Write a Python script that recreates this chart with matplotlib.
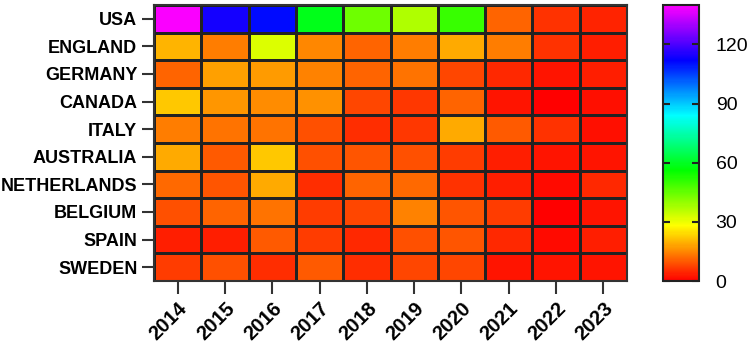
"""Heatmap of yearly values by country with a truncated-rainbow colour scale."""

import matplotlib

matplotlib.use("Agg")
import matplotlib.pyplot as plt  # noqa: E402
import numpy as np  # noqa: E402
from matplotlib.colors import ListedColormap, hsv_to_rgb  # noqa: E402

countries = ["USA", "ENGLAND", "GERMANY", "CANADA", "ITALY", "AUSTRALIA",
             "NETHERLANDS", "BELGIUM", "SPAIN", "SWEDEN"]
years = ["2014", "2015", "2016", "2017", "2018", "2019", "2020", "2021", "2022", "2023"]

usa = [139, 114, 111, 59, 44, 37, 50, 11, 5.5, 4]
england = [20, 14, 32, 15, 11, 14, 19, 14, 5.5, 3.3]
germany = [11, 17.5, 17, 14.3, 11, 13, 7.7, 4.4, 2.2, 3.3]
canada = [22, 16.5, 15.4, 16, 8, 6.5, 11, 2.2, 0.5, 2]
italy = [14, 13, 12.6, 9, 5, 6.5, 19, 10, 5.5, 2]
australia = [19, 10, 22, 9, 9.3, 9, 7, 3.8, 2.7, 2.7]
netherlands = [12, 9.3, 18.7, 5, 11, 12, 6, 3.3, 1.6, 4.4]
belgium = [8.8, 11, 13, 6.6, 8, 14.3, 9.3, 6.6, 0.5, 2.2]
spain = [3.8, 3.8, 10, 7, 4.4, 8.8, 9.3, 4.4, 1.6, 3.3]
sweden = [7, 8.8, 5, 10, 5, 8, 7.7, 2.2, 2.2, 2.7]

cbar_ticks = [0, 30, 60, 90, 120]
vmax = 140

values = np.array([usa, england, germany, canada, italy, australia,
                   netherlands, belgium, spain, sweden])

# red -> yellow -> green -> cyan -> blue -> magenta
hues = np.linspace(0, 5 / 6, 256)
cmap = ListedColormap(hsv_to_rgb(np.column_stack([hues, np.ones(256), np.ones(256)])))

plt.rcParams["font.family"] = ["Liberation Sans", "DejaVu Sans"]

W, H = 750, 348
fig = plt.figure(figsize=(W / 100, H / 100), dpi=100)
ax = fig.add_axes([154 / W, 1 - 281 / H, (627 - 154) / W, (281 - 5) / H])
cax = fig.add_axes([663 / W, 1 - 281 / H, 36 / W, 276 / H])

mesh = ax.pcolormesh(values, cmap=cmap, vmin=0, vmax=vmax,
                     edgecolors="#222222", linewidth=0.75)
ax.set_xlim(0, len(years))
ax.set_ylim(len(countries), 0)
ax.set_xticks(np.arange(len(years)) + 0.5)
ax.set_xticklabels(years, rotation=45, ha="right", rotation_mode="anchor",
                   fontsize=14.5, fontweight="bold")
ax.set_yticks(np.arange(len(countries)) + 0.5)
ax.set_yticklabels(countries, fontsize=13, fontweight="bold")
ax.tick_params(axis="both", length=9, width=1.5, color="#333333", pad=3)
ax.tick_params(axis="x", pad=4)
for sp in ax.spines.values():
    sp.set_linewidth(1.5)
    sp.set_color("#333333")

cb = fig.colorbar(mesh, cax=cax, ticks=cbar_ticks)
cb.outline.set_linewidth(1.5)
cb.outline.set_edgecolor("#222222")
cax.tick_params(axis="y", direction="in", length=5, width=1.5, color="#222222",
                left=True, right=True, labelsize=14, pad=12)

fig.savefig("out.png", dpi=100)
plt.close(fig)
